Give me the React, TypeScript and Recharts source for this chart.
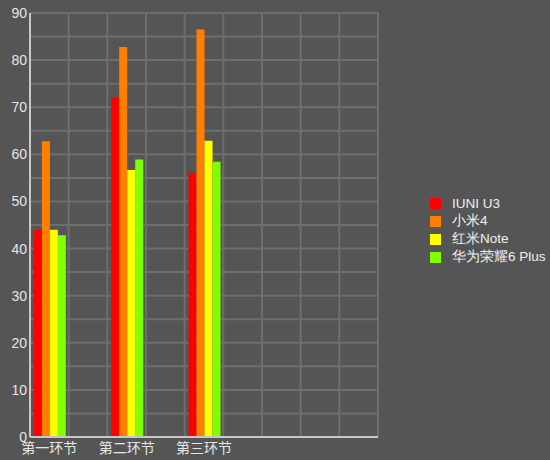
import { Bar, BarChart, CartesianGrid, Legend, XAxis, YAxis } from 'recharts';

// Three test stages, each placed in every other slot of a 9-slot x axis.
const stages = ['第一环节', '第二环节', '第三环节'];
const slotCount = 9;

const phones = ['IUNI U3', '小米4', '红米Note', '华为荣耀6 Plus'];
const colors = ['#ff0000', '#ff8000', '#ffff00', '#80ff00'];

const iuniU3 = [44, 72, 56.1];
const xiaomi4 = [62.8, 82.8, 86.5];
const redmiNote = [44, 56.7, 62.9];
const honor6Plus = [42.8, 58.9, 58.4];

const yTicks = [0, 10, 20, 30, 40, 50, 60, 70, 80, 90];
const yGridTicks = [0, 5, 10, 15, 20, 25, 30, 35, 40, 45, 50, 55, 60, 65, 70, 75, 80, 85, 90];

const seriesValues = [iuniU3, xiaomi4, redmiNote, honor6Plus];

const rows = Array.from({ length: slotCount }, (_, slot) => {
  const row: Record<string, string | number | null> = { slot: `s${slot}`, name: '' };
  const stageIdx = slot % 2 === 0 ? slot / 2 : -1;
  if (stageIdx >= 0 && stageIdx < stages.length) {
    row.name = stages[stageIdx];
    phones.forEach((p, i) => (row[p] = seriesValues[i][stageIdx]));
  }
  return row;
});

const BG = '#555555';

// vertical grid lines sit on the slot boundaries, not on the band centres
const slotBoundaries = ({ offset }: any) =>
  Array.from({ length: slotCount + 1 }, (_, k) => offset.left + (k * offset.width) / slotCount);

function LegendBox({ payload }: any) {
  // keep the series order instead of the default alphabetical one
  const items = [...(payload ?? [])].sort((a: any, b: any) => phones.indexOf(a.value) - phones.indexOf(b.value));
  return (
    <div style={{ fontFamily: '"Liberation Sans", Arial, sans-serif', fontSize: 13.5, color: '#f0f0f0' }}>
      {items.map((e: any) => (
        <div key={e.value} style={{ display: 'flex', alignItems: 'center', height: 18 }}>
          <span style={{ width: 11, height: 11, background: e.color, display: 'inline-block', marginRight: 11 }} />
          <span>{e.value}</span>
        </div>
      ))}
    </div>
  );
}

export default function App() {
  return (
    <div style={{ position: 'absolute', left: 0, top: 0, width: 550, height: 460, background: BG }}>
      <BarChart
        width={550}
        height={460}
        data={rows}
        margin={{ top: 13, right: 172, bottom: 0, left: 0 }}
        barCategoryGap="10%"
        barGap={0}
      >
        {/* hidden numeric axis only drives the horizontal grid: a line every 5 units */}
        <YAxis
          yAxisId="grid"
          type="number"
          domain={[0, 90]}
          ticks={yGridTicks}
          allowDataOverflow
          interval={0}
          width={0}
          hide
        />
        <CartesianGrid
          xAxisId="cat"
          yAxisId="grid"
          stroke="#6e6e6e"
          strokeWidth={2}
          verticalCoordinatesGenerator={slotBoundaries}
        />
        <XAxis
          xAxisId="cat"
          dataKey="slot"
          height={23}
          tickFormatter={(_: string, i: number) => rows[i]?.name as string}
          axisLine={{ stroke: '#c8c8c8', strokeWidth: 2 }}
          tickLine={false}
          tickSize={6}
          tickMargin={0}
          interval={0}
          tick={{ fontSize: 14, fill: '#e6e6e6', fontFamily: '"Noto Sans CJK SC", sans-serif' }}
        />
        <YAxis
          yAxisId="val"
          domain={[0, 90]}
          ticks={yTicks}
          width={30}
          axisLine={{ stroke: '#c8c8c8', strokeWidth: 2 }}
          tickLine={false}
          tickSize={3}
          tickMargin={0}
          tick={{ fontSize: 14, fill: '#e6e6e6', fontFamily: '"Liberation Sans", Arial, sans-serif' }}
        />
        <Legend
          layout="horizontal"
          verticalAlign="middle"
          align="center"
          content={<LegendBox />}
          wrapperStyle={{ left: 430, top: 194, width: 120 }}
        />
        {phones.map((p, i) => (
          <Bar key={p} xAxisId="cat" yAxisId="val" dataKey={p} fill={colors[i]} isAnimationActive={false} />
        ))}
      </BarChart>
    </div>
  );
}
